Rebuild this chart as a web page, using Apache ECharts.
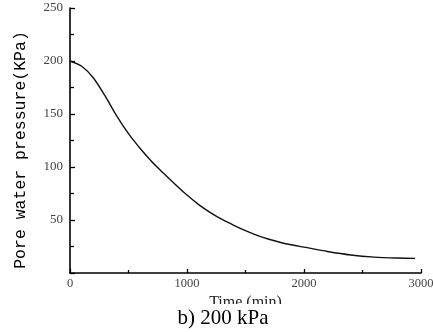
<!DOCTYPE html>
<html>
<head>
<meta charset="utf-8">
<script src="https://cdn.jsdelivr.net/npm/echarts@6/dist/echarts.min.js"></script>
<style>
html,body{margin:0;padding:0;background:#fff;}
#chart{width:433px;height:332px;}
</style>
</head>
<body>
<div id="chart"></div>
<script>
const timeMin = [0, 100, 200, 300, 400, 500, 600, 700, 800, 900, 1000, 1100, 1200, 1300, 1400, 1500, 1600, 1700, 1800, 1900, 2000, 2200, 2400, 2600, 2800, 2950];
const porePressure = [200, 195, 184, 167, 148, 131.5, 117.5, 105, 94, 83.5, 73.5, 64.5, 57, 50.5, 45, 40, 35.5, 31.8, 28.8, 26.4, 24.4, 20.3, 17, 15, 14.1, 13.8];
const xTicks = [0, 1000, 2000, 3000];
const yTicks = [50, 100, 150, 200, 250];
const xName = 'Time (min)';
const yName = 'Pore water pressure(KPa)';
const caption = 'b) 200 kPa';

const chart = echarts.init(document.getElementById('chart'), null, {renderer: 'canvas'});
const serif = 'Liberation Serif, Times New Roman, serif';
chart.setOption({
  animation: false,
  backgroundColor: '#fff',
  grid: {left: 70, right: 12, top: 8, bottom: 59, containLabel: false, outerBoundsMode: 'none'},
  xAxis: {
    type: 'value', min: 0, max: 3000, interval: 1000,
    name: xName, nameLocation: 'middle', nameGap: 21,
    nameTextStyle: {fontFamily: serif, fontSize: 16, color: '#222'},
    axisLine: {show: true, lineStyle: {color: '#000', width: 1.6}},
    axisTick: {show: true, inside: true, length: 4, lineStyle: {color: '#000', width: 1.3}},
    minorTick: {show: true, splitNumber: 2, length: 3, lineStyle: {color: '#000', width: 1.3}},
    splitLine: {show: false},
    axisLabel: {
      fontFamily: serif, fontSize: 12.5, color: '#444', margin: 4,
      formatter: v => xTicks.includes(v) ? String(v) : ''
    }
  },
  yAxis: {
    type: 'value', min: 0, max: 250, interval: 50,
    axisLine: {show: true, lineStyle: {color: '#000', width: 1.6}},
    axisTick: {show: true, inside: true, length: 5, lineStyle: {color: '#000', width: 1.3}},
    minorTick: {show: true, splitNumber: 2, length: 4, lineStyle: {color: '#000', width: 1.3}},
    splitLine: {show: false},
    axisLabel: {
      fontFamily: serif, fontSize: 13, color: '#444', margin: 7,
      formatter: v => yTicks.includes(v) ? String(v) : ''
    }
  },
  graphic: [
    {type: 'text', x: 21, y: 150, rotation: Math.PI / 2,
     style: {text: yName, font: '16.5px Liberation Mono, DejaVu Sans Mono, monospace', fill: '#000', textAlign: 'center', textVerticalAlign: 'middle'}},
    {type: 'rect', z: 100, shape: {x: 0, y: 304, width: 433, height: 28}, style: {fill: '#fff'}},
    {type: 'text', z: 101, x: 223, y: 318,
     style: {text: caption, font: '21px ' + serif, fill: '#000', textAlign: 'center', textVerticalAlign: 'middle'}}
  ],
  series: [{
    type: 'line',
    data: timeMin.map((t, i) => [t, porePressure[i]]),
    smooth: 0.3,
    showSymbol: false,
    lineStyle: {color: '#111', width: 1.4}
  }]
});
</script>
</body>
</html>
